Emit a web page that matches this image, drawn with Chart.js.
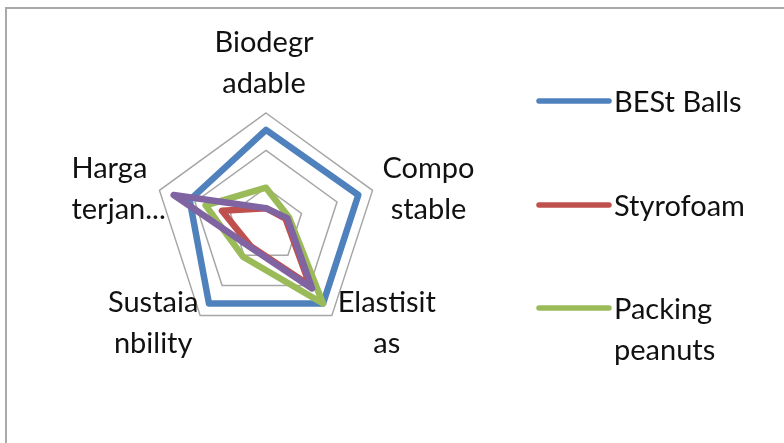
<!DOCTYPE html>
<html>
<head>
<meta charset="utf-8">
<script src="https://cdn.jsdelivr.net/npm/chart.js@4.4.1/dist/chart.umd.min.js"></script>
<style>
  html, body { margin: 0; padding: 0; background: #ffffff; overflow: hidden; }
  #wrap { position: relative; width: 784px; height: 443px; }
  #frame { position: absolute; left: 5px; top: 7px; width: 900px; height: 600px;
           border: 2px solid #a9a9a9; box-sizing: border-box; }
  #c { position: absolute; left: 0; top: 0; }
</style>
</head>
<body>
<div id="wrap">
  <div id="frame"></div>
  <canvas id="c" width="784" height="443"></canvas>
</div>
<script>
// Axis categories (wrapped the way they are shown around the web)
const categories = [
  ["Biodegr", "adable"],
  ["Compo", "stable"],
  ["Elastisit", "as"],
  ["Sustaia", "nbility"],
  ["Harga", "terjan..."]
];

// Series names and legend text
const seriesNames = ["BESt Balls", "Styrofoam", "Packing peanuts", "Series4"];
const legendText = [["BESt Balls"], ["Styrofoam"], ["Packing", "peanuts"]];

// Scores per category
const bestBalls      = [2.55, 2.6, 2.6, 2.6, 2.15];
const styrofoam      = [0.45, 0.55, 2.0, 0.7, 1.24];
const packingPeanuts = [1.0, 0.65, 2.6, 1.05, 1.7];
const series4        = [0.45, 0.6, 2.1, 0.73, 2.6];

// Radial axis range
const axisMin = 0;
const axisMax = 3;
const axisStep = 1;

const colors = ["#4F81BD", "#C0504D", "#9BBB59", "#8064A2"];
const FONT = "29px Lato";
const TEXT = "#111111";

// Text placement relative to each axis end point
const labelPlace = [
  { dx: -2,  dy: -61, align: "center" },
  { dx: 56,  dy: -12, align: "center" },
  { dx: 55,  dy: -4,  align: "center" },
  { dx: -47, dy: -4,  align: "center" },
  { dx: -88, dy: -12, align: "left" }
];
const LINE_GAP = 41;

const textPlugin = {
  id: "axisTextAndLegend",
  afterDraw(chart) {
    const ctx = chart.ctx;
    const r = chart.scales.r;
    ctx.save();
    ctx.font = FONT;
    ctx.fillStyle = TEXT;
    ctx.textBaseline = "alphabetic";
    categories.forEach((lines, i) => {
      const p = r.getPointPosition(i, r.drawingArea);
      const o = labelPlace[i];
      ctx.textAlign = o.align;
      lines.forEach((t, k) => ctx.fillText(t, p.x + o.dx, p.y + o.dy + k * LINE_GAP));
    });

    // legend
    const rowY = [101, 205, 308];
    legendText.forEach((lines, i) => {
      const y = rowY[i];
      ctx.strokeStyle = colors[i];
      ctx.lineWidth = 5.5;
      ctx.lineCap = "round";
      ctx.beginPath();
      ctx.moveTo(539, y);
      ctx.lineTo(609, y);
      ctx.stroke();
      ctx.textAlign = "left";
      ctx.fillStyle = TEXT;
      lines.forEach((t, k) => ctx.fillText(t, 614, y + 11 + k * LINE_GAP));
    });
    ctx.restore();
  }
};

const seriesData = [bestBalls, styrofoam, packingPeanuts, series4];

new Chart(document.getElementById("c"), {
  type: "radar",
  data: {
    labels: categories,
    datasets: seriesData.map((d, i) => ({
      label: seriesNames[i],
      data: d,
      borderColor: colors[i],
      backgroundColor: colors[i],
      borderWidth: 6.5,
      borderJoinStyle: "round",
      borderCapStyle: "round",
      fill: false,
      pointRadius: 0,
      pointHoverRadius: 0,
      order: 4 - i
    }))
  },
  options: {
    responsive: false,
    animation: false,
    events: [],
    layout: { padding: { left: 154, top: 113, right: 406, bottom: 106 } },
    plugins: { legend: { display: false }, tooltip: { enabled: false } },
    elements: { line: { tension: 0 } },
    scales: {
      r: {
        min: axisMin,
        max: axisMax,
        ticks: { display: false, stepSize: axisStep },
        grid: { color: "#a6a6a6", lineWidth: 1.5 },
        angleLines: { display: false },
        pointLabels: { display: false }
      }
    }
  },
  plugins: [textPlugin]
});
</script>
</body>
</html>
